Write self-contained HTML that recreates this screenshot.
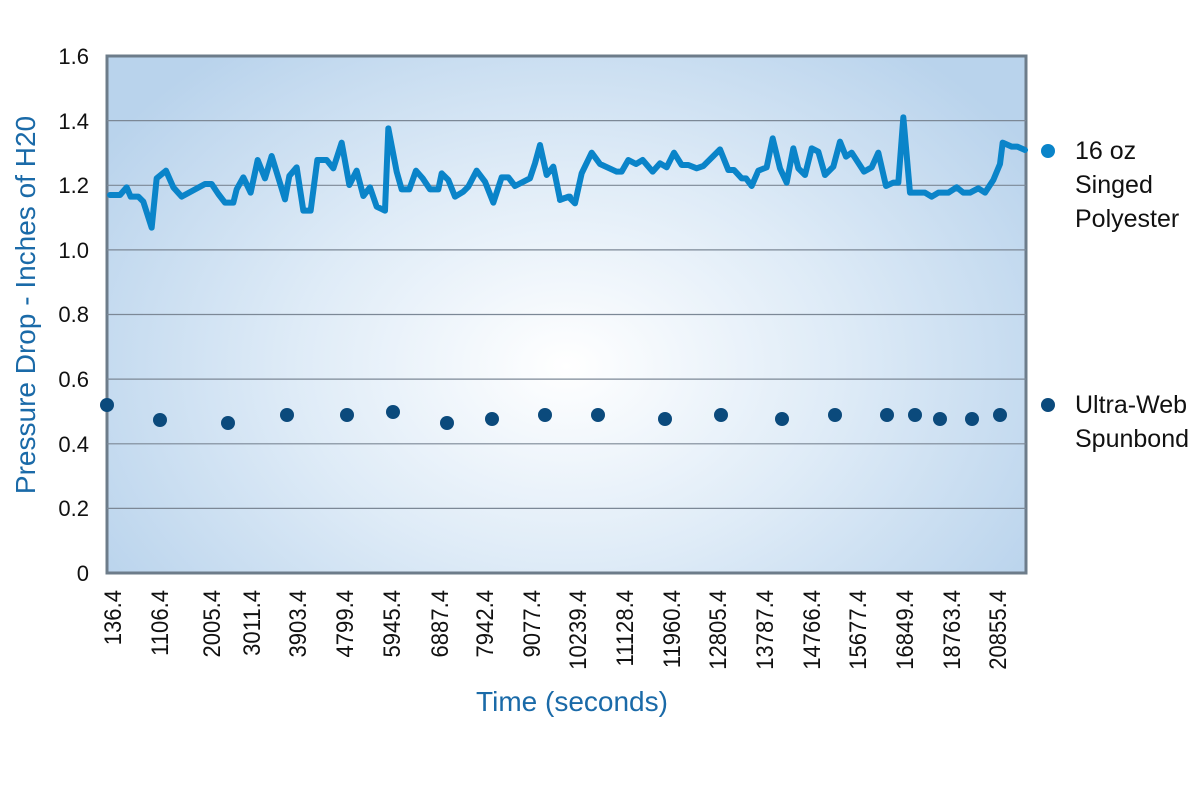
<!DOCTYPE html>
<html><head><style>
body{margin:0;background:#fff;}
svg text{font-family:"Liberation Sans Narrow","Liberation Sans",sans-serif;}
</style></head><body>
<svg width="1204" height="786" viewBox="0 0 1204 786" xmlns="http://www.w3.org/2000/svg">
<defs>
<radialGradient id="bg" cx="0.5" cy="0.6" r="0.6" gradientTransform="translate(0.5 0.6) scale(1 1.3) translate(-0.5 -0.6)">
<stop offset="0" stop-color="#ffffff"/>
<stop offset="0.5" stop-color="#deebf7"/>
<stop offset="1" stop-color="#b9d3ec"/>
</radialGradient>
</defs>
<rect x="107" y="56" width="919" height="517" fill="url(#bg)" stroke="#6d7c8a" stroke-width="3"/>
<g stroke="#7c8896" stroke-width="1.2">
<line x1="107" x2="1026" y1="508.4" y2="508.4"/>
<line x1="107" x2="1026" y1="443.8" y2="443.8"/>
<line x1="107" x2="1026" y1="379.1" y2="379.1"/>
<line x1="107" x2="1026" y1="314.5" y2="314.5"/>
<line x1="107" x2="1026" y1="249.9" y2="249.9"/>
<line x1="107" x2="1026" y1="185.3" y2="185.3"/>
<line x1="107" x2="1026" y1="120.6" y2="120.6"/>
</g>
<g fill="none" stroke="#0a84c9" stroke-width="6" stroke-linejoin="round" stroke-linecap="round">
<polyline vector-effect="non-scaling-stroke" transform="translate(100,100) scale(0.33333)" points="30,285 60,285 80,262 92,290 115,290 130,305 155,383 170,235 198,212 220,262 245,290 315,252 335,252 355,282 375,308 400,308 410,268 430,232 452,278 473,180 495,235 515,168 555,298 568,228 590,202 610,332 632,332 652,180 680,180 700,205 725,128 748,255 770,212 790,288 810,262 830,320 855,332 865,85 890,215 905,268 928,268 948,212 968,235 990,268 1015,268 1025,220 1045,240 1065,290 1090,275 1105,260 1130,212 1155,245 1180,308 1205,232 1225,232 1245,258 1290,235 1305,190 1320,135 1340,225 1360,200 1380,298 1410,290"/>
<polyline vector-effect="non-scaling-stroke" transform="translate(560,100) scale(0.33333)" points="0,300 25,290 45,310 65,220 95,158 120,192 170,215 185,215 205,180 228,192 248,180 278,215 300,190 320,202 342,158 365,195 385,195 410,205 430,198 480,148 505,210 522,210 545,235 558,235 575,258 595,212 620,202 638,115 660,205 680,248 700,145 715,205 735,225 755,145 775,155 795,225 820,200 840,125 858,170 875,158 912,215 935,202 955,158 978,258 1000,248 1015,248 1030,52 1050,278 1095,278 1115,290 1135,278 1165,278 1190,262 1210,278 1230,278 1255,265 1275,278 1300,240 1320,192 1328,128 1355,140 1372,140 1395,150"/>
</g>
<g fill="#0b4a7c">
<circle cx="107" cy="405" r="7"/><circle cx="160" cy="420" r="7"/><circle cx="228" cy="423" r="7"/><circle cx="287" cy="415" r="7"/><circle cx="347" cy="415" r="7"/><circle cx="393" cy="412" r="7"/><circle cx="447" cy="423" r="7"/><circle cx="492" cy="419" r="7"/><circle cx="545" cy="415" r="7"/><circle cx="598" cy="415" r="7"/><circle cx="665" cy="419" r="7"/><circle cx="721" cy="415" r="7"/><circle cx="782" cy="419" r="7"/><circle cx="835" cy="415" r="7"/><circle cx="887" cy="415" r="7"/><circle cx="915" cy="415" r="7"/><circle cx="940" cy="419" r="7"/><circle cx="972" cy="419" r="7"/><circle cx="1000" cy="415" r="7"/>
</g>
<g font-size="22" fill="#111" text-anchor="end">
<text x="89" y="581">0</text>
<text x="89" y="516">0.2</text>
<text x="89" y="452">0.4</text>
<text x="89" y="387">0.6</text>
<text x="89" y="322">0.8</text>
<text x="89" y="258">1.0</text>
<text x="89" y="193">1.2</text>
<text x="89" y="129">1.4</text>
<text x="89" y="64">1.6</text>
</g>
<g font-size="24" fill="#111" text-anchor="end">
<text transform="translate(121,590) rotate(-90) scale(0.92,1)">136.4</text>
<text transform="translate(168,590) rotate(-90) scale(0.92,1)">1106.4</text>
<text transform="translate(220,590) rotate(-90) scale(0.92,1)">2005.4</text>
<text transform="translate(260,590) rotate(-90) scale(0.92,1)">3011.4</text>
<text transform="translate(306,590) rotate(-90) scale(0.92,1)">3903.4</text>
<text transform="translate(353,590) rotate(-90) scale(0.92,1)">4799.4</text>
<text transform="translate(400,590) rotate(-90) scale(0.92,1)">5945.4</text>
<text transform="translate(448,590) rotate(-90) scale(0.92,1)">6887.4</text>
<text transform="translate(493,590) rotate(-90) scale(0.92,1)">7942.4</text>
<text transform="translate(540,590) rotate(-90) scale(0.92,1)">9077.4</text>
<text transform="translate(586,590) rotate(-90) scale(0.92,1)">10239.4</text>
<text transform="translate(633,590) rotate(-90) scale(0.92,1)">11128.4</text>
<text transform="translate(680,590) rotate(-90) scale(0.92,1)">11960.4</text>
<text transform="translate(726,590) rotate(-90) scale(0.92,1)">12805.4</text>
<text transform="translate(773,590) rotate(-90) scale(0.92,1)">13787.4</text>
<text transform="translate(820,590) rotate(-90) scale(0.92,1)">14766.4</text>
<text transform="translate(866,590) rotate(-90) scale(0.92,1)">15677.4</text>
<text transform="translate(913,590) rotate(-90) scale(0.92,1)">16849.4</text>
<text transform="translate(960,590) rotate(-90) scale(0.92,1)">18763.4</text>
<text transform="translate(1006,590) rotate(-90) scale(0.92,1)">20855.4</text>
</g>
<text x="572" y="711" font-size="28" fill="#1a6aa8" text-anchor="middle">Time (seconds)</text>
<text transform="translate(35,305) rotate(-90)" font-size="28" fill="#1a6aa8" text-anchor="middle">Pressure Drop - Inches of H20</text>
<circle cx="1048" cy="151" r="7" fill="#0a84c9"/>
<circle cx="1048" cy="405" r="7" fill="#0b4a7c"/>
<g font-size="25" fill="#111">
<text x="1075" y="159">16 oz</text>
<text x="1075" y="193">Singed</text>
<text x="1075" y="227">Polyester</text>
<text x="1075" y="413">Ultra-Web</text>
<text x="1075" y="447">Spunbond</text>
</g>
</svg>
</body></html>
